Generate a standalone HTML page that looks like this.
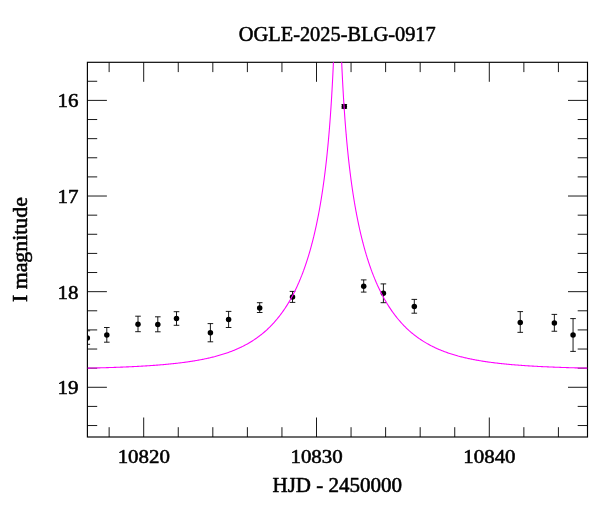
<!DOCTYPE html>
<html lang="en">
<head>
<meta charset="utf-8">
<title>OGLE-2025-BLG-0917</title>
<style>
html,body{margin:0;padding:0;background:#fff;}
body{width:600px;height:512px;overflow:hidden;}
svg{display:block;will-change:transform;}
svg text{font-family:"Liberation Serif","DejaVu Serif",serif;font-size:19.8px;fill:#000;stroke:#000;stroke-width:0.55px;stroke-linejoin:round;}
</style>
</head>
<body>
<svg width="600" height="512" viewBox="0 0 600 512">
<rect x="0" y="0" width="600" height="512" fill="#fff"/>
<defs><clipPath id="plotclip"><rect x="87.4" y="62.3" width="500.10" height="374.70"/></clipPath></defs>
<!-- frame and ticks -->
<path d="M109.14,437.0v-9.8M109.14,62.3v9.8M143.70,437.0v-19.5M143.70,62.3v19.5M178.26,437.0v-9.8M178.26,62.3v9.8M212.82,437.0v-9.8M212.82,62.3v9.8M247.38,437.0v-9.8M247.38,62.3v9.8M281.94,437.0v-9.8M281.94,62.3v9.8M316.50,437.0v-19.5M316.50,62.3v19.5M351.06,437.0v-9.8M351.06,62.3v9.8M385.62,437.0v-9.8M385.62,62.3v9.8M420.18,437.0v-9.8M420.18,62.3v9.8M454.74,437.0v-9.8M454.74,62.3v9.8M489.30,437.0v-19.5M489.30,62.3v19.5M523.86,437.0v-9.8M523.86,62.3v9.8M558.42,437.0v-9.8M558.42,62.3v9.8M87.4,81.27h9.8M587.5,81.27h-9.8M87.4,100.40h19.5M587.5,100.40h-19.5M87.4,119.53h9.8M587.5,119.53h-9.8M87.4,138.65h9.8M587.5,138.65h-9.8M87.4,157.78h9.8M587.5,157.78h-9.8M87.4,176.90h9.8M587.5,176.90h-9.8M87.4,196.03h19.5M587.5,196.03h-19.5M87.4,215.16h9.8M587.5,215.16h-9.8M87.4,234.28h9.8M587.5,234.28h-9.8M87.4,253.41h9.8M587.5,253.41h-9.8M87.4,272.53h9.8M587.5,272.53h-9.8M87.4,291.66h19.5M587.5,291.66h-19.5M87.4,310.79h9.8M587.5,310.79h-9.8M87.4,329.91h9.8M587.5,329.91h-9.8M87.4,349.04h9.8M587.5,349.04h-9.8M87.4,368.16h9.8M587.5,368.16h-9.8M87.4,387.29h19.5M587.5,387.29h-19.5M87.4,406.42h9.8M587.5,406.42h-9.8M87.4,425.54h9.8M587.5,425.54h-9.8" stroke="#000" stroke-width="0.9" fill="none"/>
<rect x="87.4" y="62.3" width="500.10" height="374.70" fill="none" stroke="#000" stroke-width="1.15"/>
<!-- data points -->
<g clip-path="url(#plotclip)">
<g stroke="#000" stroke-width="0.9" fill="none">
<path d="M87.30,330.80V344.30M84.50,330.80H90.10M84.50,344.30H90.10"/>
<path d="M106.80,327.50V342.20M104.00,327.50H109.60M104.00,342.20H109.60"/>
<path d="M138.00,316.20V331.70M135.20,316.20H140.80M135.20,331.70H140.80"/>
<path d="M157.80,316.80V331.80M155.00,316.80H160.60M155.00,331.80H160.60"/>
<path d="M176.50,311.70V325.30M173.70,311.70H179.30M173.70,325.30H179.30"/>
<path d="M210.40,323.60V341.80M207.60,323.60H213.20M207.60,341.80H213.20"/>
<path d="M228.60,311.40V327.50M225.80,311.40H231.40M225.80,327.50H231.40"/>
<path d="M259.70,302.70V312.50M256.90,302.70H262.50M256.90,312.50H262.50"/>
<path d="M292.50,291.40V302.40M289.70,291.40H295.30M289.70,302.40H295.30"/>
<path d="M344.30,104.50V108.30M341.50,104.50H347.10M341.50,108.30H347.10"/>
<path d="M363.70,279.90V292.10M360.90,279.90H366.50M360.90,292.10H366.50"/>
<path d="M383.40,283.90V302.70M380.60,283.90H386.20M380.60,302.70H386.20"/>
<path d="M414.30,299.40V313.20M411.50,299.40H417.10M411.50,313.20H417.10"/>
<path d="M520.25,311.60V332.35M517.45,311.60H523.05M517.45,332.35H523.05"/>
<path d="M554.35,314.40V331.25M551.55,314.40H557.15M551.55,331.25H557.15"/>
<path d="M573.05,318.60V351.40M570.25,318.60H575.85M570.25,351.40H575.85"/>
</g>
<g fill="#000">
<circle cx="87.30" cy="338.00" r="2.75"/>
<circle cx="106.80" cy="335.00" r="2.75"/>
<circle cx="138.00" cy="324.20" r="2.75"/>
<circle cx="157.80" cy="324.50" r="2.75"/>
<circle cx="176.50" cy="318.50" r="2.75"/>
<circle cx="210.40" cy="332.80" r="2.75"/>
<circle cx="228.60" cy="319.40" r="2.75"/>
<circle cx="259.70" cy="307.90" r="2.75"/>
<circle cx="292.50" cy="297.10" r="2.75"/>
<circle cx="344.30" cy="106.40" r="2.75"/>
<circle cx="363.70" cy="286.20" r="2.75"/>
<circle cx="383.40" cy="293.30" r="2.75"/>
<circle cx="414.30" cy="306.40" r="2.75"/>
<circle cx="520.25" cy="322.45" r="2.75"/>
<circle cx="554.35" cy="323.00" r="2.75"/>
<circle cx="573.05" cy="335.10" r="2.75"/>
</g>
<!-- model curve -->
<g stroke="#ff00ff" stroke-width="1.08" fill="none" stroke-linejoin="round">
<path d="M87.40,368.15 L88.23,368.13 L89.07,368.11 L89.90,368.09 L90.74,368.08 L91.57,368.06 L92.41,368.04 L93.24,368.01 L94.08,367.99 L94.91,367.97 L95.75,367.95 L96.58,367.93 L97.42,367.91 L98.25,367.89 L99.09,367.86 L99.92,367.84 L100.76,367.82 L101.59,367.80 L102.43,367.77 L103.26,367.75 L104.10,367.72 L104.93,367.70 L105.77,367.67 L106.60,367.65 L107.44,367.62 L108.27,367.60 L109.11,367.57 L109.94,367.54 L110.78,367.51 L111.61,367.49 L112.45,367.46 L113.28,367.43 L114.12,367.40 L114.95,367.37 L115.79,367.34 L116.62,367.31 L117.46,367.28 L118.29,367.25 L119.13,367.22 L119.96,367.19 L120.80,367.15 L121.63,367.12 L122.47,367.09 L123.30,367.05 L124.14,367.02 L124.97,366.98 L125.81,366.95 L126.64,366.91 L127.47,366.88 L128.31,366.84 L129.14,366.80 L129.98,366.76 L130.81,366.72 L131.65,366.68 L132.48,366.64 L133.32,366.60 L134.15,366.56 L134.99,366.52 L135.82,366.48 L136.66,366.43 L137.49,366.39 L138.33,366.34 L139.16,366.30 L140.00,366.25 L140.83,366.21 L141.67,366.16 L142.50,366.11 L143.34,366.06 L144.17,366.01 L145.01,365.96 L145.84,365.91 L146.68,365.86 L147.51,365.80 L148.35,365.75 L149.18,365.69 L150.02,365.64 L150.85,365.58 L151.69,365.52 L152.52,365.47 L153.36,365.41 L154.19,365.35 L155.03,365.29 L155.86,365.22 L156.70,365.16 L157.53,365.09 L158.37,365.03 L159.20,364.96 L160.04,364.90 L160.87,364.83 L161.71,364.76 L162.54,364.69 L163.38,364.61 L164.21,364.54 L165.04,364.47 L165.88,364.39 L166.71,364.31 L167.55,364.23 L168.38,364.15 L169.22,364.07 L170.05,363.99 L170.89,363.91 L171.72,363.82 L172.56,363.73 L173.39,363.65 L174.23,363.56 L175.06,363.46 L175.90,363.37 L176.73,363.28 L177.57,363.18 L178.40,363.08 L179.24,362.98 L180.07,362.88 L180.91,362.78 L181.74,362.67 L182.58,362.57 L183.41,362.46 L184.25,362.35 L185.08,362.23 L185.92,362.12 L186.75,362.00 L187.59,361.89 L188.42,361.76 L189.26,361.64 L190.09,361.52 L190.93,361.39 L191.76,361.26 L192.60,361.13 L193.43,360.99 L194.27,360.86 L195.10,360.72 L195.94,360.58 L196.77,360.43 L197.61,360.28 L198.44,360.14 L199.28,359.98 L200.11,359.83 L200.95,359.67 L201.78,359.51 L202.62,359.35 L203.45,359.18 L204.28,359.01 L205.12,358.84 L205.95,358.66 L206.79,358.48 L207.62,358.30 L208.46,358.11 L209.29,357.92 L210.13,357.73 L210.96,357.53 L211.80,357.33 L212.63,357.12 L213.47,356.91 L214.30,356.70 L215.14,356.49 L215.97,356.26 L216.81,356.04 L217.64,355.81 L218.48,355.58 L219.31,355.34 L220.15,355.10 L220.98,354.85 L221.82,354.60 L222.65,354.34 L223.49,354.08 L224.32,353.81 L225.16,353.54 L225.99,353.26 L226.83,352.98 L227.66,352.69 L228.50,352.39 L229.33,352.09 L230.17,351.78 L231.00,351.47 L231.84,351.15 L232.67,350.83 L233.51,350.50 L234.34,350.16 L235.18,349.81 L236.01,349.46 L236.85,349.10 L237.68,348.74 L238.52,348.36 L239.35,347.98 L240.19,347.59 L241.02,347.20 L241.85,346.79 L242.69,346.38 L243.52,345.96 L244.36,345.53 L245.19,345.09 L246.03,344.64 L246.86,344.18 L247.70,343.72 L248.53,343.24 L249.37,342.75 L250.20,342.26 L251.04,341.75 L251.87,341.23 L252.71,340.70 L253.54,340.16 L254.38,339.61 L255.21,339.05 L256.05,338.48 L256.88,337.89 L257.72,337.29 L258.55,336.68 L259.39,336.05 L260.22,335.41 L261.06,334.76 L261.89,334.09 L262.73,333.41 L263.56,332.72 L264.40,332.01 L265.23,331.28 L266.07,330.54 L266.90,329.78 L267.74,329.00 L268.57,328.21 L269.41,327.40 L270.24,326.57 L271.08,325.72 L271.91,324.86 L272.75,323.97 L273.58,323.07 L274.42,322.14 L275.25,321.19 L276.09,320.22 L276.92,319.23 L277.76,318.22 L278.59,317.18 L279.43,316.12 L280.26,315.03 L281.09,313.92 L281.93,312.78 L282.76,311.61 L283.60,310.42 L284.43,309.19 L285.27,307.94 L286.10,306.65 L286.94,305.34 L287.77,303.99 L288.61,302.61 L289.44,301.19 L290.28,299.74 L291.11,298.25 L291.95,296.72 L292.78,295.15 L293.62,293.55 L294.45,291.89 L295.29,290.20 L296.12,288.46 L296.96,286.67 L297.55,285.37 L297.65,285.15 L297.75,284.92 L297.79,284.83 L297.85,284.70 L297.95,284.48 L298.05,284.25 L298.15,284.03 L298.25,283.80 L298.35,283.57 L298.45,283.34 L298.55,283.12 L298.63,282.94 L298.65,282.89 L298.75,282.66 L298.85,282.42 L298.95,282.19 L299.05,281.96 L299.15,281.73 L299.25,281.49 L299.35,281.26 L299.45,281.02 L299.46,281.00 L299.55,280.79 L299.65,280.55 L299.75,280.31 L299.85,280.07 L299.95,279.83 L300.05,279.59 L300.15,279.35 L300.25,279.11 L300.30,279.00 L300.35,278.86 L300.45,278.62 L300.55,278.37 L300.65,278.13 L300.75,277.88 L300.85,277.63 L300.95,277.39 L301.05,277.14 L301.13,276.94 L301.15,276.89 L301.25,276.64 L301.35,276.39 L301.45,276.13 L301.56,275.88 L301.66,275.62 L301.76,275.37 L301.86,275.11 L301.96,274.86 L301.97,274.83 L302.06,274.60 L302.16,274.34 L302.26,274.08 L302.36,273.82 L302.46,273.56 L302.56,273.30 L302.66,273.03 L302.76,272.77 L302.80,272.65 L302.86,272.50 L302.96,272.24 L303.06,271.97 L303.16,271.70 L303.26,271.43 L303.36,271.16 L303.46,270.89 L303.56,270.62 L303.64,270.40 L303.66,270.34 L303.76,270.07 L303.86,269.80 L303.96,269.52 L304.06,269.24 L304.16,268.96 L304.26,268.69 L304.36,268.41 L304.46,268.12 L304.47,268.09 L304.56,267.84 L304.66,267.56 L304.76,267.27 L304.86,266.99 L304.96,266.70 L305.06,266.41 L305.16,266.13 L305.26,265.84 L305.31,265.70 L305.36,265.55 L305.46,265.25 L305.56,264.96 L305.66,264.67 L305.76,264.37 L305.86,264.08 L305.96,263.78 L306.06,263.48 L306.14,263.24 L306.16,263.18 L306.26,262.88 L306.36,262.58 L306.46,262.27 L306.56,261.97 L306.66,261.66 L306.76,261.36 L306.86,261.05 L306.96,260.74 L306.98,260.70 L307.06,260.43 L307.16,260.12 L307.26,259.81 L307.36,259.49 L307.46,259.18 L307.56,258.86 L307.66,258.54 L307.76,258.23 L307.81,258.07 L307.86,257.91 L307.96,257.58 L308.06,257.26 L308.16,256.94 L308.26,256.61 L308.36,256.29 L308.46,255.96 L308.56,255.63 L308.65,255.36 L308.66,255.30 L308.76,254.97 L308.86,254.63 L308.96,254.30 L309.06,253.96 L309.16,253.63 L309.26,253.29 L309.36,252.95 L309.46,252.61 L309.48,252.55 L309.57,252.26 L309.67,251.92 L309.77,251.57 L309.87,251.23 L309.97,250.88 L310.07,250.53 L310.17,250.18 L310.27,249.82 L310.32,249.65 L310.37,249.47 L310.47,249.11 L310.57,248.76 L310.67,248.40 L310.77,248.04 L310.87,247.67 L310.97,247.31 L311.07,246.95 L311.15,246.64 L311.17,246.58 L311.27,246.21 L311.37,245.84 L311.47,245.47 L311.57,245.10 L311.67,244.72 L311.77,244.34 L311.87,243.97 L311.97,243.59 L311.99,243.52 L312.07,243.21 L312.17,242.82 L312.27,242.44 L312.37,242.05 L312.47,241.66 L312.57,241.27 L312.67,240.88 L312.77,240.49 L312.82,240.28 L312.87,240.09 L312.97,239.70 L313.07,239.30 L313.17,238.90 L313.27,238.49 L313.37,238.09 L313.47,237.68 L313.57,237.27 L313.66,236.92 L313.67,236.86 L313.77,236.45 L313.87,236.04 L313.97,235.62 L314.07,235.21 L314.17,234.79 L314.27,234.36 L314.37,233.94 L314.47,233.51 L314.49,233.43 L314.57,233.09 L314.67,232.66 L314.77,232.22 L314.87,231.79 L314.97,231.35 L315.07,230.92 L315.17,230.48 L315.27,230.03 L315.33,229.80 L315.37,229.59 L315.47,229.14 L315.57,228.69 L315.67,228.24 L315.77,227.79 L315.87,227.33 L315.97,226.87 L316.07,226.41 L316.16,226.01 L316.17,225.95 L316.27,225.49 L316.37,225.02 L316.47,224.55 L316.57,224.08 L316.67,223.60 L316.77,223.12 L316.87,222.64 L316.97,222.16 L317.00,222.06 L317.07,221.68 L317.17,221.19 L317.27,220.70 L317.37,220.21 L317.47,219.71 L317.58,219.21 L317.68,218.71 L317.78,218.21 L317.83,217.93 L317.88,217.70 L317.98,217.19 L318.08,216.68 L318.18,216.17 L318.28,215.65 L318.38,215.13 L318.48,214.61 L318.58,214.08 L318.66,213.62 L318.68,213.55 L318.78,213.02 L318.88,212.49 L318.98,211.95 L319.08,211.41 L319.18,210.87 L319.28,210.32 L319.38,209.77 L319.48,209.21 L319.50,209.09 L319.58,208.66 L319.68,208.10 L319.78,207.53 L319.88,206.97 L319.98,206.40 L320.08,205.82 L320.18,205.25 L320.28,204.67 L320.33,204.34 L320.38,204.08 L320.48,203.49 L320.58,202.90 L320.68,202.31 L320.78,201.71 L320.88,201.11 L320.98,200.50 L321.08,199.89 L321.17,199.34 L321.18,199.28 L321.28,198.66 L321.38,198.04 L321.48,197.41 L321.58,196.78 L321.68,196.15 L321.78,195.51 L321.88,194.87 L321.98,194.22 L322.00,194.07 L322.08,193.57 L322.18,192.92 L322.28,192.26 L322.38,191.59 L322.48,190.93 L322.58,190.25 L322.68,189.58 L322.78,188.89 L322.84,188.50 L322.88,188.21 L322.98,187.51 L323.08,186.82 L323.18,186.12 L323.28,185.41 L323.38,184.70 L323.48,183.98 L323.58,183.26 L323.67,182.59 L323.68,182.53 L323.78,181.80 L323.88,181.06 L323.98,180.32 L324.08,179.57 L324.18,178.81 L324.28,178.05 L324.38,177.28 L324.48,176.51 L324.51,176.31 L324.58,175.73 L324.68,174.95 L324.78,174.16 L324.88,173.36 L324.98,172.56 L325.08,171.75 L325.18,170.93 L325.28,170.11 L325.34,169.62 L325.38,169.28 L325.48,168.44 L325.59,167.60 L325.69,166.75 L325.79,165.89 L325.89,165.02 L325.99,164.15 L326.09,163.27 L326.18,162.44 L326.19,162.38 L326.29,161.48 L326.39,160.58 L326.49,159.67 L326.59,158.75 L326.69,157.82 L326.79,156.88 L326.89,155.94 L326.99,154.98 L327.01,154.72 L327.09,154.02 L327.19,153.05 L327.29,152.06 L327.39,151.07 L327.49,150.07 L327.59,149.06 L327.69,148.04 L327.79,147.01 L327.85,146.38 L327.89,145.97 L327.99,144.92 L328.09,143.85 L328.19,142.78 L328.29,141.69 L328.39,140.60 L328.49,139.49 L328.59,138.37 L328.68,137.30 L328.69,137.24 L328.79,136.09 L328.89,134.94 L328.99,133.77 L329.09,132.58 L329.19,131.38 L329.29,130.17 L329.39,128.95 L329.49,127.71 L329.52,127.35 L329.59,126.46 L329.69,125.19 L329.79,123.90 L329.89,122.60 L329.99,121.28 L330.09,119.95 L330.19,118.60 L330.29,117.23 L330.35,116.37 L330.39,115.85 L330.49,114.44 L330.59,113.02 L330.69,111.58 L330.79,110.12 L330.89,108.64 L330.99,107.14 L331.09,105.61 L331.19,104.13 L331.19,104.07 L331.29,102.50 L331.39,100.91 L331.49,99.30 L331.59,97.66 L331.69,95.99 L331.79,94.31 L331.89,92.59 L331.99,90.85 L332.02,90.32 L332.09,89.08 L332.19,87.28 L332.29,85.45 L332.39,83.59 L332.49,81.70 L332.59,79.77 L332.69,77.81 L332.79,75.82 L332.86,74.53 L332.89,73.79 L332.99,71.73 L333.09,69.63 L333.19,67.48 L333.29,65.30 L333.39,63.08 L333.49,60.81"/>
<path d="M341.61,60.81 L341.71,63.08 L341.81,65.30 L341.91,67.48 L342.01,69.63 L342.04,70.39 L342.11,71.73 L342.21,73.79 L342.31,75.82 L342.41,77.81 L342.51,79.77 L342.61,81.70 L342.71,83.59 L342.81,85.45 L342.88,86.73 L342.91,87.28 L343.01,89.08 L343.11,90.85 L343.21,92.59 L343.31,94.31 L343.41,95.99 L343.51,97.66 L343.61,99.30 L343.71,100.91 L343.71,100.97 L343.81,102.50 L343.91,104.07 L344.01,105.61 L344.11,107.14 L344.21,108.64 L344.31,110.12 L344.41,111.58 L344.51,113.02 L344.55,113.56 L344.61,114.44 L344.71,115.85 L344.81,117.23 L344.91,118.60 L345.01,119.95 L345.11,121.28 L345.21,122.60 L345.31,123.90 L345.38,124.82 L345.41,125.19 L345.51,126.46 L345.61,127.71 L345.71,128.95 L345.81,130.17 L345.91,131.38 L346.01,132.58 L346.11,133.77 L346.21,134.94 L346.22,135.00 L346.31,136.09 L346.41,137.24 L346.51,138.37 L346.61,139.49 L346.71,140.60 L346.81,141.69 L346.91,142.78 L347.01,143.85 L347.05,144.27 L347.11,144.92 L347.21,145.97 L347.31,147.01 L347.41,148.04 L347.51,149.06 L347.61,150.07 L347.71,151.07 L347.81,152.06 L347.89,152.78 L347.91,153.05 L348.01,154.02 L348.11,154.98 L348.21,155.94 L348.31,156.88 L348.41,157.82 L348.51,158.75 L348.61,159.67 L348.71,160.58 L348.72,160.64 L348.81,161.48 L348.91,162.38 L349.01,163.27 L349.11,164.15 L349.21,165.02 L349.31,165.89 L349.41,166.75 L349.51,167.60 L349.56,167.94 L349.62,168.44 L349.72,169.28 L349.82,170.11 L349.92,170.93 L350.02,171.75 L350.12,172.56 L350.22,173.36 L350.32,174.16 L350.39,174.75 L350.42,174.95 L350.52,175.73 L350.62,176.51 L350.72,177.28 L350.82,178.05 L350.92,178.81 L351.02,179.57 L351.12,180.32 L351.22,181.06 L351.23,181.12 L351.32,181.80 L351.42,182.53 L351.52,183.26 L351.62,183.98 L351.72,184.70 L351.82,185.41 L351.92,186.12 L352.02,186.82 L352.06,187.11 L352.12,187.51 L352.22,188.21 L352.32,188.89 L352.42,189.58 L352.52,190.25 L352.62,190.93 L352.72,191.59 L352.82,192.26 L352.90,192.76 L352.92,192.92 L353.02,193.57 L353.12,194.22 L353.22,194.87 L353.32,195.51 L353.42,196.15 L353.52,196.78 L353.62,197.41 L353.72,198.04 L353.73,198.10 L353.82,198.66 L353.92,199.28 L354.02,199.89 L354.12,200.50 L354.22,201.11 L354.32,201.71 L354.42,202.31 L354.52,202.90 L354.57,203.16 L354.62,203.49 L354.72,204.08 L354.82,204.67 L354.92,205.25 L355.02,205.82 L355.12,206.40 L355.22,206.97 L355.32,207.53 L355.40,207.97 L355.42,208.10 L355.52,208.66 L355.62,209.21 L355.72,209.77 L355.82,210.32 L355.92,210.87 L356.02,211.41 L356.12,211.95 L356.22,212.49 L356.24,212.55 L356.32,213.02 L356.42,213.55 L356.52,214.08 L356.62,214.61 L356.72,215.13 L356.82,215.65 L356.92,216.17 L357.02,216.68 L357.07,216.92 L357.12,217.19 L357.22,217.70 L357.32,218.21 L357.42,218.71 L357.52,219.21 L357.63,219.71 L357.73,220.21 L357.83,220.70 L357.90,221.09 L357.93,221.19 L358.03,221.68 L358.13,222.16 L358.23,222.64 L358.33,223.12 L358.43,223.60 L358.53,224.08 L358.63,224.55 L358.73,225.02 L358.74,225.08 L358.83,225.49 L358.93,225.95 L359.03,226.41 L359.13,226.87 L359.23,227.33 L359.33,227.79 L359.43,228.24 L359.53,228.69 L359.57,228.90 L359.63,229.14 L359.73,229.59 L359.83,230.03 L359.93,230.48 L360.03,230.92 L360.13,231.35 L360.23,231.79 L360.33,232.22 L360.41,232.57 L360.43,232.66 L360.53,233.09 L360.63,233.51 L360.73,233.94 L360.83,234.36 L360.93,234.79 L361.03,235.21 L361.13,235.62 L361.23,236.04 L361.24,236.10 L361.33,236.45 L361.43,236.86 L361.53,237.27 L361.63,237.68 L361.73,238.09 L361.83,238.49 L361.93,238.90 L362.03,239.30 L362.08,239.49 L362.13,239.70 L362.23,240.09 L362.33,240.49 L362.43,240.88 L362.53,241.27 L362.63,241.66 L362.73,242.05 L362.83,242.44 L362.91,242.76 L362.93,242.82 L363.03,243.21 L363.13,243.59 L363.23,243.97 L363.33,244.34 L363.43,244.72 L363.53,245.10 L363.63,245.47 L363.73,245.84 L363.75,245.90 L363.83,246.21 L363.93,246.58 L364.03,246.95 L364.13,247.31 L364.23,247.67 L364.33,248.04 L364.43,248.40 L364.53,248.76 L364.58,248.94 L364.63,249.11 L364.73,249.47 L364.83,249.82 L364.93,250.18 L365.03,250.53 L365.13,250.88 L365.23,251.23 L365.33,251.57 L365.42,251.86 L365.43,251.92 L365.53,252.26 L365.64,252.61 L365.74,252.95 L365.84,253.29 L365.94,253.63 L366.04,253.96 L366.14,254.30 L366.24,254.63 L366.25,254.69 L366.34,254.97 L366.44,255.30 L366.54,255.63 L366.64,255.96 L366.74,256.29 L366.84,256.61 L366.94,256.94 L367.04,257.26 L367.09,257.43 L367.14,257.58 L367.24,257.91 L367.34,258.23 L367.44,258.54 L367.54,258.86 L367.64,259.18 L367.74,259.49 L367.84,259.81 L367.92,260.07 L367.94,260.12 L368.04,260.43 L368.14,260.74 L368.24,261.05 L368.34,261.36 L368.44,261.66 L368.54,261.97 L368.64,262.27 L368.74,262.58 L368.76,262.64 L368.84,262.88 L368.94,263.18 L369.04,263.48 L369.14,263.78 L369.24,264.08 L369.34,264.37 L369.44,264.67 L369.54,264.96 L369.59,265.12 L369.64,265.25 L369.74,265.55 L369.84,265.84 L369.94,266.13 L370.04,266.41 L370.14,266.70 L370.24,266.99 L370.34,267.27 L370.43,267.52 L370.44,267.56 L370.54,267.84 L370.64,268.12 L370.74,268.41 L370.84,268.69 L370.94,268.96 L371.04,269.24 L371.14,269.52 L371.24,269.80 L371.26,269.85 L371.34,270.07 L371.44,270.34 L371.54,270.62 L371.64,270.89 L371.74,271.16 L371.84,271.43 L371.94,271.70 L372.04,271.97 L372.10,272.12 L372.14,272.24 L372.24,272.50 L372.34,272.77 L372.44,273.03 L372.54,273.30 L372.64,273.56 L372.74,273.82 L372.84,274.08 L372.93,274.31 L372.94,274.34 L373.04,274.60 L373.14,274.86 L373.24,275.11 L373.34,275.37 L373.44,275.62 L373.54,275.88 L373.65,276.13 L373.75,276.39 L373.77,276.44 L373.85,276.64 L373.95,276.89 L374.05,277.14 L374.15,277.39 L374.25,277.63 L374.35,277.88 L374.45,278.13 L374.55,278.37 L374.60,278.51 L374.65,278.62 L374.75,278.86 L374.85,279.11 L374.95,279.35 L375.05,279.59 L375.15,279.83 L375.25,280.07 L375.35,280.31 L375.44,280.52 L375.45,280.55 L375.55,280.79 L375.65,281.02 L375.75,281.26 L375.85,281.49 L375.95,281.73 L376.05,281.96 L376.15,282.19 L376.25,282.42 L376.27,282.48 L376.35,282.66 L376.45,282.89 L376.55,283.12 L376.65,283.34 L376.75,283.57 L376.85,283.80 L376.95,284.03 L377.05,284.25 L377.11,284.38 L377.15,284.48 L377.25,284.70 L377.35,284.92 L377.45,285.15 L377.55,285.37 L377.94,286.23 L378.78,288.03 L379.61,289.79 L380.45,291.49 L381.28,293.15 L382.12,294.77 L382.95,296.35 L383.79,297.89 L384.62,299.39 L385.46,300.85 L386.29,302.27 L387.13,303.66 L387.96,305.02 L388.80,306.34 L389.63,307.63 L390.47,308.89 L391.30,310.13 L392.14,311.33 L392.97,312.50 L393.81,313.65 L394.64,314.77 L395.47,315.86 L396.31,316.93 L397.14,317.97 L397.98,318.99 L398.81,319.99 L399.65,320.96 L400.48,321.92 L401.32,322.85 L402.15,323.76 L402.99,324.65 L403.82,325.52 L404.66,326.37 L405.49,327.20 L406.33,328.02 L407.16,328.81 L408.00,329.59 L408.83,330.36 L409.67,331.10 L410.50,331.83 L411.34,332.55 L412.17,333.25 L413.01,333.93 L413.84,334.60 L414.68,335.26 L415.51,335.90 L416.35,336.53 L417.18,337.14 L418.02,337.75 L418.85,338.34 L419.69,338.91 L420.52,339.48 L421.36,340.03 L422.19,340.58 L423.03,341.11 L423.86,341.63 L424.70,342.14 L425.53,342.63 L426.37,343.12 L427.20,343.60 L428.04,344.07 L428.87,344.53 L429.71,344.98 L430.54,345.42 L431.38,345.86 L432.21,346.28 L433.05,346.69 L433.88,347.10 L434.71,347.50 L435.55,347.89 L436.38,348.27 L437.22,348.65 L438.05,349.02 L438.89,349.38 L439.72,349.73 L440.56,350.08 L441.39,350.42 L442.23,350.75 L443.06,351.08 L443.90,351.40 L444.73,351.71 L445.57,352.02 L446.40,352.32 L447.24,352.62 L448.07,352.91 L448.91,353.19 L449.74,353.47 L450.58,353.74 L451.41,354.01 L452.25,354.28 L453.08,354.53 L453.92,354.79 L454.75,355.04 L455.59,355.28 L456.42,355.52 L457.26,355.75 L458.09,355.99 L458.93,356.21 L459.76,356.43 L460.60,356.65 L461.43,356.86 L462.27,357.07 L463.10,357.28 L463.94,357.48 L464.77,357.68 L465.61,357.87 L466.44,358.06 L467.28,358.25 L468.11,358.44 L468.95,358.62 L469.78,358.79 L470.62,358.97 L471.45,359.14 L472.28,359.31 L473.12,359.47 L473.95,359.63 L474.79,359.79 L475.62,359.95 L476.46,360.10 L477.29,360.25 L478.13,360.40 L478.96,360.54 L479.80,360.68 L480.63,360.82 L481.47,360.96 L482.30,361.10 L483.14,361.23 L483.97,361.36 L484.81,361.49 L485.64,361.61 L486.48,361.74 L487.31,361.86 L488.15,361.98 L488.98,362.09 L489.82,362.21 L490.65,362.32 L491.49,362.43 L492.32,362.54 L493.16,362.65 L493.99,362.75 L494.83,362.86 L495.66,362.96 L496.50,363.06 L497.33,363.16 L498.17,363.25 L499.00,363.35 L499.84,363.44 L500.67,363.53 L501.51,363.62 L502.34,363.71 L503.18,363.80 L504.01,363.89 L504.85,363.97 L505.68,364.05 L506.52,364.13 L507.35,364.21 L508.19,364.29 L509.02,364.37 L509.86,364.45 L510.69,364.52 L511.52,364.60 L512.36,364.67 L513.19,364.74 L514.03,364.81 L514.86,364.88 L515.70,364.95 L516.53,365.01 L517.37,365.08 L518.20,365.14 L519.04,365.21 L519.87,365.27 L520.71,365.33 L521.54,365.39 L522.38,365.45 L523.21,365.51 L524.05,365.57 L524.88,365.63 L525.72,365.68 L526.55,365.74 L527.39,365.79 L528.22,365.84 L529.06,365.90 L529.89,365.95 L530.73,366.00 L531.56,366.05 L532.40,366.10 L533.23,366.15 L534.07,366.19 L534.90,366.24 L535.74,366.29 L536.57,366.33 L537.41,366.38 L538.24,366.42 L539.08,366.47 L539.91,366.51 L540.75,366.55 L541.58,366.59 L542.42,366.63 L543.25,366.67 L544.09,366.71 L544.92,366.75 L545.76,366.79 L546.59,366.83 L547.43,366.87 L548.26,366.90 L549.09,366.94 L549.93,366.98 L550.76,367.01 L551.60,367.04 L552.43,367.08 L553.27,367.11 L554.10,367.15 L554.94,367.18 L555.77,367.21 L556.61,367.24 L557.44,367.27 L558.28,367.30 L559.11,367.33 L559.95,367.36 L560.78,367.39 L561.62,367.42 L562.45,367.45 L563.29,367.48 L564.12,367.51 L564.96,367.54 L565.79,367.56 L566.63,367.59 L567.46,367.62 L568.30,367.64 L569.13,367.67 L569.97,367.69 L570.80,367.72 L571.64,367.74 L572.47,367.77 L573.31,367.79 L574.14,367.81 L574.98,367.84 L575.81,367.86 L576.65,367.88 L577.48,367.90 L578.32,367.93 L579.15,367.95 L579.99,367.97 L580.82,367.99 L581.66,368.01 L582.49,368.03 L583.33,368.05 L584.16,368.07 L585.00,368.09 L585.83,368.11 L586.67,368.13 L587.50,368.15"/>
</g>
</g>
<!-- labels -->
<text x="337.3" y="40.6" style="font-size:20.8px" text-anchor="middle" textLength="196.9" lengthAdjust="spacingAndGlyphs">OGLE-2025-BLG-0917</text>
<text x="337.3" y="491.5" style="font-size:20.1px" text-anchor="middle" textLength="129.6" lengthAdjust="spacingAndGlyphs">HJD - 2450000</text>
<text transform="translate(26.8,249.6) rotate(-90)" style="font-size:19.9px" text-anchor="middle" textLength="105" lengthAdjust="spacingAndGlyphs">I magnitude</text>
<text x="78.4" y="107.3" text-anchor="end" textLength="21.0" lengthAdjust="spacingAndGlyphs">16</text>
<text x="78.4" y="202.9" text-anchor="end" textLength="21.0" lengthAdjust="spacingAndGlyphs">17</text>
<text x="78.4" y="298.6" text-anchor="end" textLength="21.0" lengthAdjust="spacingAndGlyphs">18</text>
<text x="78.4" y="394.2" text-anchor="end" textLength="21.0" lengthAdjust="spacingAndGlyphs">19</text>
<text x="143.8" y="463.4" text-anchor="middle" textLength="52.3" lengthAdjust="spacingAndGlyphs">10820</text>
<text x="316.6" y="463.4" text-anchor="middle" textLength="52.3" lengthAdjust="spacingAndGlyphs">10830</text>
<text x="489.4" y="463.4" text-anchor="middle" textLength="52.3" lengthAdjust="spacingAndGlyphs">10840</text>
</svg>
</body>
</html>
